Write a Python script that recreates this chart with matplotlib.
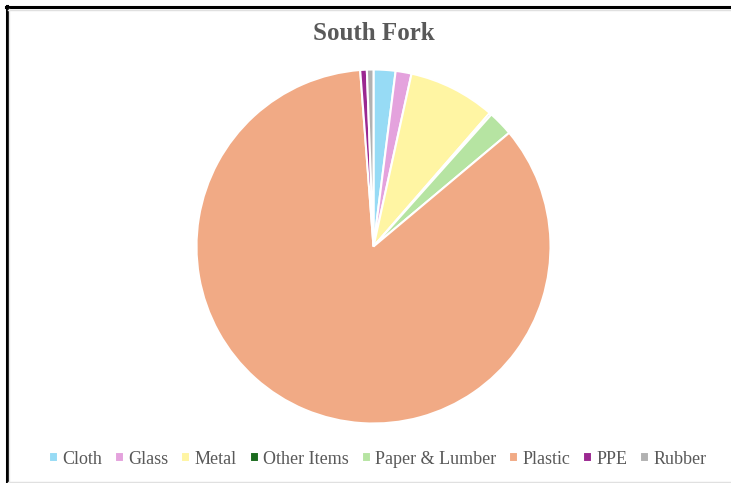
import matplotlib
matplotlib.use("Agg")
import matplotlib.pyplot as plt
from matplotlib.lines import Line2D

categories = ["Cloth", "Glass", "Metal", "Other Items", "Paper & Lumber", "Plastic", "PPE", "Rubber"]
values = [2.0, 1.45, 7.95, 0.2, 2.3, 84.9, 0.6, 0.6]
colors = ["#97DBF5", "#E4A2DD", "#FFF5A3", "#1B6B1E", "#B6E4A2", "#F1AA85", "#9B2891", "#B1B1B1"]
title = "South Fork"

W, H = 731, 483
fig = plt.figure(figsize=(W / 100, H / 100), dpi=100)
fig.patch.set_facecolor("white")

cx, cy, r = 373.5, 246.5, 177
ax = fig.add_axes([(cx - r) / W, (H - cy - r) / H, 2 * r / W, 2 * r / H])
wedges, _ = ax.pie(values, colors=colors, startangle=90, counterclock=False,
                   radius=1, wedgeprops=dict(edgecolor="white", linewidth=1.5))
ax.set_xlim(-1.0, 1.0)
ax.set_ylim(-1.0, 1.0)
ax.axis("off")

fig.text(374 / W, 1 - 34 / H, title, ha="center", va="center",
         fontsize=18, fontweight="bold", color="#595959", family="Liberation Serif")

leg = fig.legend(wedges, categories, loc="center", bbox_to_anchor=(378 / W, 1 - 459 / H),
                 ncol=8, frameon=False, handlelength=0.5, handleheight=0.5,
                 handletextpad=0.25, columnspacing=0.7,
                 prop={"family": "Liberation Serif", "size": 13})
for t in leg.get_texts():
    t.set_color("#595959")

# frame lines
fig.add_artist(Line2D([6 / W, 1], [1 - 7 / H, 1 - 7 / H], color="black", lw=2.2, transform=fig.transFigure))
fig.add_artist(Line2D([6.5 / W, 6.5 / W], [0, 1 - 6 / H], color="black", lw=2.2, transform=fig.transFigure))
fig.add_artist(Line2D([8 / W, 1], [1 - 9.5 / H, 1 - 9.5 / H], color="#E0E0E0", lw=1, transform=fig.transFigure))
fig.add_artist(Line2D([8 / W, 1], [1.5 / H, 1.5 / H], color="#E0E0E0", lw=1, transform=fig.transFigure))
fig.add_artist(Line2D([9 / W, 9 / W], [0, 1 - 9 / H], color="#E8E8E8", lw=1, transform=fig.transFigure))

fig.savefig("out.png", dpi=100)
